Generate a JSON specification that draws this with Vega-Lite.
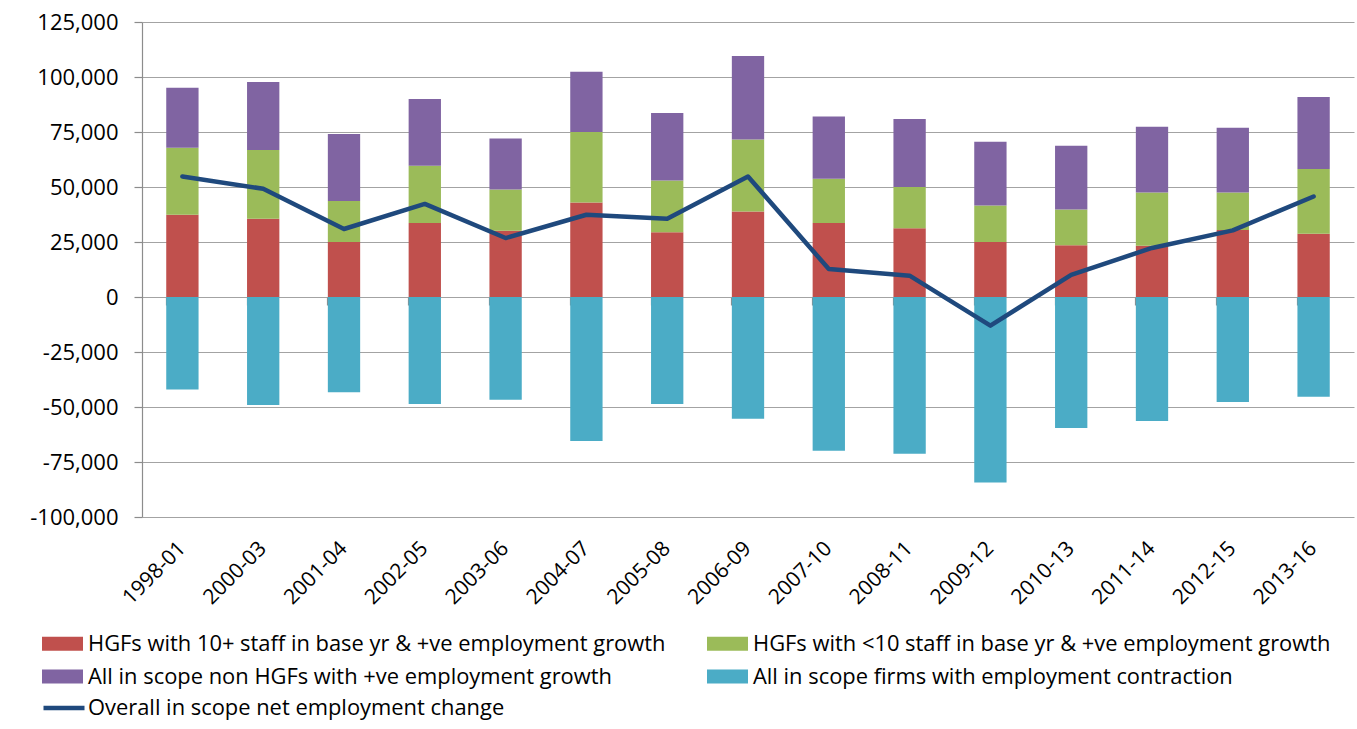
{
  "$schema": "https://vega.github.io/schema/vega-lite/v6.json",
  "width": 1212,
  "height": 495,
  "autosize": {"type": "none"},
  "padding": {"left": 142, "top": 22, "right": 3, "bottom": 212},
  "background": "white",
  "config": {
    "view": {"stroke": null},
    "font": "Open Sans",
    "axis": {"labelColor": "#000000", "labelFont": "Open Sans"},
    "legend": {"labelColor": "#000000", "labelFont": "Open Sans"}
  },
  "datasets": {
    "bars": [
      {"period": "1998-01", "series": "HGFs with 10+ staff in base yr & +ve employment growth", "rank": 1, "value": 37400},
      {"period": "1998-01", "series": "HGFs with <10 staff in base yr & +ve employment growth", "rank": 2, "value": 30460},
      {"period": "1998-01", "series": "All in scope non HGFs with +ve employment growth", "rank": 3, "value": 27270},
      {"period": "1998-01", "series": "All in scope firms with employment contraction", "rank": 4, "value": -42100},
      {"period": "2000-03", "series": "HGFs with 10+ staff in base yr & +ve employment growth", "rank": 1, "value": 35600},
      {"period": "2000-03", "series": "HGFs with <10 staff in base yr & +ve employment growth", "rank": 2, "value": 31200},
      {"period": "2000-03", "series": "All in scope non HGFs with +ve employment growth", "rank": 3, "value": 30900},
      {"period": "2000-03", "series": "All in scope firms with employment contraction", "rank": 4, "value": -49100},
      {"period": "2001-04", "series": "HGFs with 10+ staff in base yr & +ve employment growth", "rank": 1, "value": 25000},
      {"period": "2001-04", "series": "HGFs with <10 staff in base yr & +ve employment growth", "rank": 2, "value": 18600},
      {"period": "2001-04", "series": "All in scope non HGFs with +ve employment growth", "rank": 3, "value": 30500},
      {"period": "2001-04", "series": "All in scope firms with employment contraction", "rank": 4, "value": -43300},
      {"period": "2002-05", "series": "HGFs with 10+ staff in base yr & +ve employment growth", "rank": 1, "value": 33600},
      {"period": "2002-05", "series": "HGFs with <10 staff in base yr & +ve employment growth", "rank": 2, "value": 26100},
      {"period": "2002-05", "series": "All in scope non HGFs with +ve employment growth", "rank": 3, "value": 30300},
      {"period": "2002-05", "series": "All in scope firms with employment contraction", "rank": 4, "value": -48600},
      {"period": "2003-06", "series": "HGFs with 10+ staff in base yr & +ve employment growth", "rank": 1, "value": 30100},
      {"period": "2003-06", "series": "HGFs with <10 staff in base yr & +ve employment growth", "rank": 2, "value": 18800},
      {"period": "2003-06", "series": "All in scope non HGFs with +ve employment growth", "rank": 3, "value": 23200},
      {"period": "2003-06", "series": "All in scope firms with employment contraction", "rank": 4, "value": -46700},
      {"period": "2004-07", "series": "HGFs with 10+ staff in base yr & +ve employment growth", "rank": 1, "value": 42900},
      {"period": "2004-07", "series": "HGFs with <10 staff in base yr & +ve employment growth", "rank": 2, "value": 32100},
      {"period": "2004-07", "series": "All in scope non HGFs with +ve employment growth", "rank": 3, "value": 27400},
      {"period": "2004-07", "series": "All in scope firms with employment contraction", "rank": 4, "value": -65400},
      {"period": "2005-08", "series": "HGFs with 10+ staff in base yr & +ve employment growth", "rank": 1, "value": 29400},
      {"period": "2005-08", "series": "HGFs with <10 staff in base yr & +ve employment growth", "rank": 2, "value": 23500},
      {"period": "2005-08", "series": "All in scope non HGFs with +ve employment growth", "rank": 3, "value": 30700},
      {"period": "2005-08", "series": "All in scope firms with employment contraction", "rank": 4, "value": -48600},
      {"period": "2006-09", "series": "HGFs with 10+ staff in base yr & +ve employment growth", "rank": 1, "value": 38900},
      {"period": "2006-09", "series": "HGFs with <10 staff in base yr & +ve employment growth", "rank": 2, "value": 32700},
      {"period": "2006-09", "series": "All in scope non HGFs with +ve employment growth", "rank": 3, "value": 37900},
      {"period": "2006-09", "series": "All in scope firms with employment contraction", "rank": 4, "value": -55300},
      {"period": "2007-10", "series": "HGFs with 10+ staff in base yr & +ve employment growth", "rank": 1, "value": 33600},
      {"period": "2007-10", "series": "HGFs with <10 staff in base yr & +ve employment growth", "rank": 2, "value": 20200},
      {"period": "2007-10", "series": "All in scope non HGFs with +ve employment growth", "rank": 3, "value": 28300},
      {"period": "2007-10", "series": "All in scope firms with employment contraction", "rank": 4, "value": -69900},
      {"period": "2008-11", "series": "HGFs with 10+ staff in base yr & +ve employment growth", "rank": 1, "value": 31200},
      {"period": "2008-11", "series": "HGFs with <10 staff in base yr & +ve employment growth", "rank": 2, "value": 18800},
      {"period": "2008-11", "series": "All in scope non HGFs with +ve employment growth", "rank": 3, "value": 30900},
      {"period": "2008-11", "series": "All in scope firms with employment contraction", "rank": 4, "value": -71200},
      {"period": "2009-12", "series": "HGFs with 10+ staff in base yr & +ve employment growth", "rank": 1, "value": 25000},
      {"period": "2009-12", "series": "HGFs with <10 staff in base yr & +ve employment growth", "rank": 2, "value": 16600},
      {"period": "2009-12", "series": "All in scope non HGFs with +ve employment growth", "rank": 3, "value": 29000},
      {"period": "2009-12", "series": "All in scope firms with employment contraction", "rank": 4, "value": -84300},
      {"period": "2010-13", "series": "HGFs with 10+ staff in base yr & +ve employment growth", "rank": 1, "value": 23500},
      {"period": "2010-13", "series": "HGFs with <10 staff in base yr & +ve employment growth", "rank": 2, "value": 16300},
      {"period": "2010-13", "series": "All in scope non HGFs with +ve employment growth", "rank": 3, "value": 29000},
      {"period": "2010-13", "series": "All in scope firms with employment contraction", "rank": 4, "value": -59500},
      {"period": "2011-14", "series": "HGFs with 10+ staff in base yr & +ve employment growth", "rank": 1, "value": 23300},
      {"period": "2011-14", "series": "HGFs with <10 staff in base yr & +ve employment growth", "rank": 2, "value": 24200},
      {"period": "2011-14", "series": "All in scope non HGFs with +ve employment growth", "rank": 3, "value": 29900},
      {"period": "2011-14", "series": "All in scope firms with employment contraction", "rank": 4, "value": -56400},
      {"period": "2012-15", "series": "HGFs with 10+ staff in base yr & +ve employment growth", "rank": 1, "value": 30500},
      {"period": "2012-15", "series": "HGFs with <10 staff in base yr & +ve employment growth", "rank": 2, "value": 17000},
      {"period": "2012-15", "series": "All in scope non HGFs with +ve employment growth", "rank": 3, "value": 29400},
      {"period": "2012-15", "series": "All in scope firms with employment contraction", "rank": 4, "value": -47700},
      {"period": "2013-16", "series": "HGFs with 10+ staff in base yr & +ve employment growth", "rank": 1, "value": 28800},
      {"period": "2013-16", "series": "HGFs with <10 staff in base yr & +ve employment growth", "rank": 2, "value": 29400},
      {"period": "2013-16", "series": "All in scope non HGFs with +ve employment growth", "rank": 3, "value": 32700},
      {"period": "2013-16", "series": "All in scope firms with employment contraction", "rank": 4, "value": -45300}
    ],
    "net": [
      {"period": "1998-01", "series": "Overall in scope net employment change", "value": 54800},
      {"period": "2000-03", "series": "Overall in scope net employment change", "value": 49200},
      {"period": "2001-04", "series": "Overall in scope net employment change", "value": 30900},
      {"period": "2002-05", "series": "Overall in scope net employment change", "value": 42300},
      {"period": "2003-06", "series": "Overall in scope net employment change", "value": 26800},
      {"period": "2004-07", "series": "Overall in scope net employment change", "value": 37400},
      {"period": "2005-08", "series": "Overall in scope net employment change", "value": 35600},
      {"period": "2006-09", "series": "Overall in scope net employment change", "value": 54800},
      {"period": "2007-10", "series": "Overall in scope net employment change", "value": 12700},
      {"period": "2008-11", "series": "Overall in scope net employment change", "value": 9700},
      {"period": "2009-12", "series": "Overall in scope net employment change", "value": -13000},
      {"period": "2010-13", "series": "Overall in scope net employment change", "value": 10100},
      {"period": "2011-14", "series": "Overall in scope net employment change", "value": 22300},
      {"period": "2012-15", "series": "Overall in scope net employment change", "value": 30300},
      {"period": "2013-16", "series": "Overall in scope net employment change", "value": 45700}
    ]
  },
  "layer": [
    {
      "data": {"name": "bars"},
      "mark": {"type": "bar"},
      "encoding": {
        "x": {
          "field": "period", "type": "nominal", "sort": null,
          "scale": {"paddingInner": 0.6, "paddingOuter": 0.3},
          "axis": {
            "orient": "bottom", "title": null, "domain": false, "ticks": false, "grid": false,
            "labelAngle": -45, "labelAlign": "right", "labelBaseline": "middle",
            "labelPadding": 28, "labelFontSize": 21
          }
        },
        "y": {
          "field": "value", "type": "quantitative", "stack": "zero",
          "scale": {"domain": [-100000, 125000], "nice": false, "zero": false},
          "axis": {
            "title": null, "values": [-100000, -75000, -50000, -25000, 0, 25000, 50000, 75000, 100000, 125000],
            "labelExpr": "replace(format(datum.value, ','), '\u2212', '-')",
            "grid": true, "gridColor": "#A3A3A3", "gridWidth": 1.2,
            "domain": true, "domainColor": "#8C8C8C", "domainWidth": 1.2,
            "ticks": true, "tickColor": "#8C8C8C", "tickSize": 8, "tickWidth": 1.2,
            "labelPadding": 16, "labelFontSize": 22
          }
        },
        "fill": {
          "field": "series", "type": "nominal",
          "scale": {
            "domain": [
              "HGFs with 10+ staff in base yr & +ve employment growth",
              "HGFs with <10 staff in base yr & +ve employment growth",
              "All in scope non HGFs with +ve employment growth",
              "All in scope firms with employment contraction"
            ],
            "range": ["#C0504D", "#9BBB59", "#8064A2", "#4BACC6"]
          },
          "legend": {
            "orient": "none", "legendX": -100, "legendY": 601, "direction": "horizontal", "columns": 2,
            "title": null, "symbolType": "M-1,-0.34H1V0.34H-1Z", "symbolSize": 1681, "symbolStrokeWidth": 0,
            "labelFontSize": 21.9, "labelOffset": 5, "columnPadding": 41, "rowPadding": 1, "labelLimit": 1000, "padding": 0
          }
        },
        "order": {"field": "rank", "type": "quantitative"}
      }
    },
    {
      "data": {"name": "net"},
      "mark": {"type": "line", "strokeWidth": 4.5, "strokeJoin": "round", "strokeCap": "round"},
      "encoding": {
        "x": {
          "field": "period", "type": "nominal", "sort": null,
          "axis": {
            "orient": "bottom", "offset": -220, "title": null, "labels": false, "domain": false, "grid": false,
            "ticks": true, "tickSize": 8, "tickColor": "#8C8C8C", "tickWidth": 1.2, "bandPosition": 0
          }
        },
        "y": {"field": "value", "type": "quantitative"},
        "stroke": {
          "field": "series", "type": "nominal",
          "scale": {"domain": ["Overall in scope net employment change"], "range": ["#1F497D"]},
          "legend": {
            "orient": "none", "legendX": -101, "legendY": 663, "title": null,
            "symbolType": "stroke", "symbolSize": 1681, "symbolStrokeWidth": 4.5,
            "labelFontSize": 21.9, "labelOffset": 1, "labelLimit": 1000, "padding": 0
          }
        }
      }
    }
  ],
  "resolve": {"axis": {"x": "independent"}}
}
